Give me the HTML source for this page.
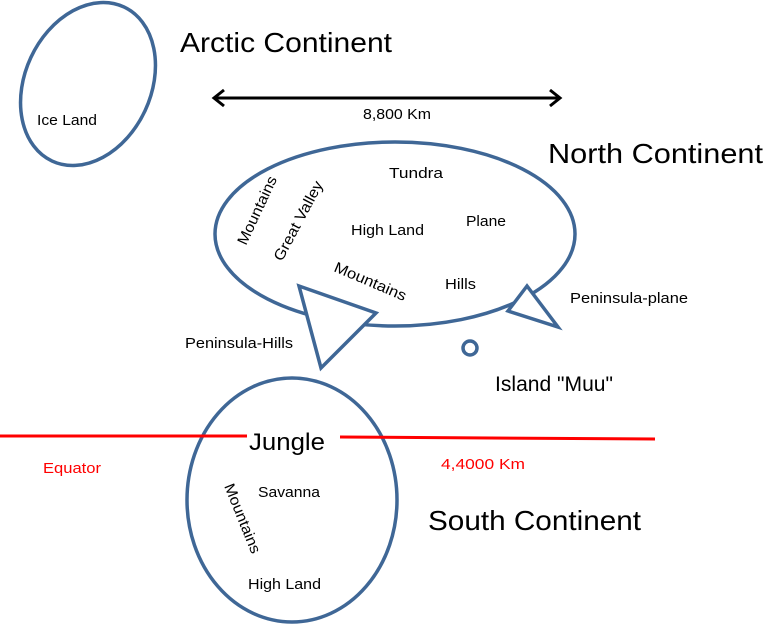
<!DOCTYPE html>
<html><head><meta charset="utf-8"><style>
html,body{margin:0;padding:0;background:#fff;}
svg{display:block;font-family:"Liberation Sans",sans-serif;}
</style></head><body>
<svg width="782" height="625" viewBox="0 0 782 625" xmlns="http://www.w3.org/2000/svg">
<g fill="none" stroke="#3F6796" stroke-width="3.5">
<ellipse cx="88" cy="84" rx="63" ry="85" transform="rotate(25 88 84)"/>
<ellipse cx="395" cy="234" rx="180" ry="92" fill="#fff"/>
<polygon points="299,286 376,313 321,368" fill="#fff" stroke-linejoin="miter"/>
<polygon points="527,286 508,311 558,327" fill="#fff"/>
<circle cx="470" cy="348" r="7"/>
<ellipse cx="292" cy="500" rx="105" ry="122"/>
</g>
<g stroke="#FF0000" stroke-width="3">
<line x1="0" y1="436" x2="247" y2="436"/>
<line x1="340" y1="437" x2="655" y2="439"/>
</g>
<g stroke="#000" stroke-width="3" fill="none">
<line x1="214" y1="98" x2="560" y2="98"/>
<polyline points="224,90 214,98 224,106"/>
<polyline points="550,90 560,98 550,106"/>
</g>
<g fill="#000" lengthAdjust="spacingAndGlyphs">
<text x="180" y="52" font-size="28" textLength="212" lengthAdjust="spacingAndGlyphs">Arctic Continent</text>
<text x="548" y="163" font-size="28" textLength="215" lengthAdjust="spacingAndGlyphs">North Continent</text>
<text x="428" y="530" font-size="28" textLength="213" lengthAdjust="spacingAndGlyphs">South Continent</text>
<text x="495" y="391" font-size="21" textLength="118" lengthAdjust="spacingAndGlyphs">Island "Muu"</text>
<text x="249" y="450" font-size="24" textLength="76" lengthAdjust="spacingAndGlyphs">Jungle</text>
<text x="363" y="119" font-size="15" textLength="68" lengthAdjust="spacingAndGlyphs">8,800 Km</text>
<text x="37" y="125" font-size="15" textLength="60" lengthAdjust="spacingAndGlyphs">Ice Land</text>
<text x="389" y="178" font-size="15" textLength="54" lengthAdjust="spacingAndGlyphs">Tundra</text>
<text x="351" y="235" font-size="15" textLength="73" lengthAdjust="spacingAndGlyphs">High Land</text>
<text x="466" y="226" font-size="15" textLength="40" lengthAdjust="spacingAndGlyphs">Plane</text>
<text x="445" y="289" font-size="15" textLength="31" lengthAdjust="spacingAndGlyphs">Hills</text>
<text x="570" y="303" font-size="15" textLength="118" lengthAdjust="spacingAndGlyphs">Peninsula-plane</text>
<text x="185" y="348" font-size="15" textLength="108" lengthAdjust="spacingAndGlyphs">Peninsula-Hills</text>
<text x="258" y="497" font-size="15" textLength="62" lengthAdjust="spacingAndGlyphs">Savanna</text>
<text x="248" y="589" font-size="15" textLength="73" lengthAdjust="spacingAndGlyphs">High Land</text>
<text x="43" y="473" font-size="15" fill="#FF0000" textLength="58" lengthAdjust="spacingAndGlyphs">Equator</text>
<text x="441" y="469" font-size="15" fill="#FF0000" textLength="84" lengthAdjust="spacingAndGlyphs">4,4000 Km</text>
<text font-size="15" transform="translate(246,246) rotate(-65)" textLength="74" lengthAdjust="spacingAndGlyphs">Mountains</text>
<text font-size="15" transform="translate(282,262) rotate(-62)" textLength="88" lengthAdjust="spacingAndGlyphs">Great Valley</text>
<text font-size="15" transform="translate(333,271) rotate(23)" textLength="77" lengthAdjust="spacingAndGlyphs">Mountains</text>
<text font-size="15" transform="translate(224,486) rotate(68)" textLength="74" lengthAdjust="spacingAndGlyphs">Mountains</text>
</g>
</svg>
</body></html>
